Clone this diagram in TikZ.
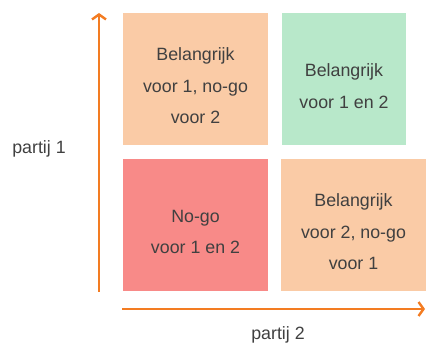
\documentclass[tikz,border=0pt]{standalone}
\usepackage{fontspec}
\setmainfont{Liberation Sans}
\usetikzlibrary{math, arrows.meta}
\definecolor{peach}{HTML}{FACBA6}
\definecolor{mint}{HTML}{B8E8CA}
\definecolor{salmon}{HTML}{F88A88}
\definecolor{axisorange}{HTML}{F37C22}
\definecolor{txtgray}{HTML}{404040}

\begin{document}
\begin{tikzpicture}[x=1pt, y=1pt,
    vak/.style={minimum height=132pt, inner sep=0pt, draw=none},
    vaktekst/.style={align=center, text=txtgray, font=\fontsize{17.8}{31.5}\selectfont, yshift=-7pt},
    as/.style={draw=axisorange, line width=2.4pt, -{Straight Barb[length=5pt, width=14pt]}},
    aslabel/.style={text=txtgray, font=\fontsize{17.8}{21}\selectfont}]
      \tikzmath{\lx = 195.5; \rx = 353.5; \ty = 266; \by = 120;}
      \useasboundingbox (0,0) rectangle (426,345);
      \node[vak, fill=peach, minimum width=145pt] (linksboven) at (\lx,\ty) {};
      \node[vak, fill=mint, minimum width=124pt] (rechtsboven) at (344,\ty) {};
      \node[vak, fill=salmon, minimum width=145pt] (linksonder) at (\lx,\by) {};
      \node[vak, fill=peach, minimum width=145pt] (rechtsonder) at (\rx,\by) {};
      \node[vaktekst] at (linksboven.center) {Belangrijk\\voor 1, no-go\\voor 2};
      \node[vaktekst] at (rechtsboven.center) {Belangrijk\\voor 1 en 2};
      \node[vaktekst] at (linksonder.center) {No-go\\voor 1 en 2};
      \node[vaktekst] at (rechtsonder.center) {Belangrijk\\voor 2, no-go\\voor 1};
      \coordinate (yvan) at (99,53);
      \coordinate (ytot) at (99,332);
      \coordinate (xvan) at (122,36);
      \coordinate (xtot) at (425,36);
      \draw[as] (yvan) -- (ytot);
      \draw[as] (xvan) -- (xtot);
      \node[aslabel] (partijeen) at (39,196) {partij 1};
      \node[aslabel] (partijtwee) at (278,10) {partij 2};
    \end{tikzpicture}
\end{document}
